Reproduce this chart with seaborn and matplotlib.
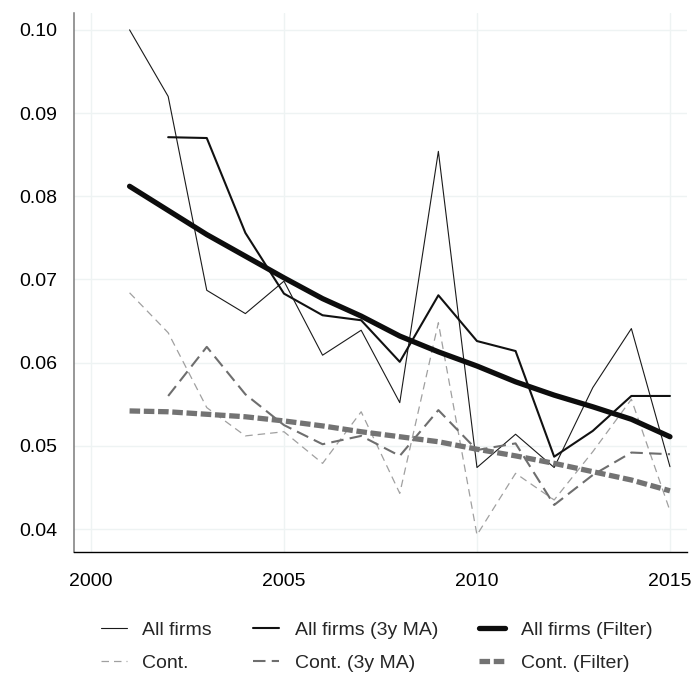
import numpy as np
import pandas as pd
import seaborn as sns
import matplotlib.pyplot as plt

years = list(range(2001, 2016))

all_firms = [0.1000, 0.0920, 0.0687, 0.0659, 0.0698, 0.0609, 0.0639, 0.0552,
             0.0854, 0.0474, 0.0514, 0.0474, 0.0570, 0.0641, 0.0475]
all_firms_ma = [np.nan, 0.0871, 0.0870, 0.0756, 0.0683, 0.0657, 0.0651, 0.0601,
                0.0681, 0.0626, 0.0614, 0.0487, 0.0518, 0.0560, 0.0560]
all_firms_filter = [0.0812, 0.0783, 0.0754, 0.0728, 0.0702, 0.0677, 0.0656, 0.0632,
                    0.0613, 0.0596, 0.0577, 0.0561, 0.0547, 0.0532, 0.0511]
cont = [0.0684, 0.0636, 0.0546, 0.0512, 0.0517, 0.0479, 0.0541, 0.0443,
        0.0648, 0.0393, 0.0467, 0.0435, 0.0493, 0.0556, 0.0422]
cont_ma = [np.nan, 0.0560, 0.0619, 0.0562, 0.0525, 0.0502, 0.0512, 0.0488,
           0.0543, 0.0495, 0.0503, 0.0429, 0.0465, 0.0492, 0.0490]
cont_filter = [0.0542, 0.0541, 0.0538, 0.0535, 0.0530, 0.0524, 0.0517, 0.0511,
               0.0505, 0.0496, 0.0488, 0.0479, 0.0469, 0.0459, 0.0446]

df = pd.DataFrame({
    "year": years,
    "All firms": all_firms,
    "Cont.": cont,
    "All firms (3y MA)": all_firms_ma,
    "Cont. (3y MA)": cont_ma,
    "All firms (Filter)": all_firms_filter,
    "Cont. (Filter)": cont_filter,
})

# line look per series
styles = {
    "All firms": dict(color="#1a1a1a", lw=0.8, ls="-"),
    "Cont.": dict(color="#a0a0a0", lw=0.9, ls=(0, (6, 4))),
    "All firms (3y MA)": dict(color="#111111", lw=1.5, ls="-"),
    "Cont. (3y MA)": dict(color="#6e6e6e", lw=1.5, ls=(0, (6, 3))),
    "All firms (Filter)": dict(color="#0d0d0d", lw=3.8, ls="-"),
    "Cont. (Filter)": dict(color="#737373", lw=3.8, ls=(0, (2.0, 0.7))),
}

sns.set_style("whitegrid")
plt.rcParams["font.family"] = ["Liberation Sans", "DejaVu Sans"]

fig = plt.figure(figsize=(6.96, 6.78), dpi=100)
ax = fig.add_axes([0.1063, 0.186, 0.8807, 0.795])

for name, st in styles.items():
    sns.lineplot(data=df, x="year", y=name, ax=ax, color=st["color"],
                 linewidth=st["lw"], linestyle=st["ls"], label=name, legend=False)

ax.set_xlim(1999.56, 2015.44)
ax.set_ylim(0.03726, 0.10204)
ax.set_xticks([2000, 2005, 2010, 2015])
ax.set_yticks([0.04, 0.05, 0.06, 0.07, 0.08, 0.09, 0.10])
ax.set_yticklabels(["0.04", "0.05", "0.06", "0.07", "0.08", "0.09", "0.10"])
ax.set_xlabel("")
ax.set_ylabel("")
ax.grid(True, color="#eef3f3", linewidth=1.0)
for s in ["right", "top"]:
    ax.spines[s].set_visible(False)
ax.spines["bottom"].set_visible(True)
ax.spines["bottom"].set_color("black")
ax.spines["bottom"].set_linewidth(1.0)
ax.spines["left"].set_visible(True)
ax.spines["left"].set_color("#7a7a7a")
ax.spines["left"].set_linewidth(1.1)
ax.tick_params(axis="both", length=0, labelsize=14, colors="black")
ax.tick_params(axis="x", pad=15)
ax.tick_params(axis="y", pad=12)

handles, labels = ax.get_legend_handles_labels()
fig.legend(handles, labels, ncol=3, loc="center", bbox_to_anchor=(0.541, 0.0465),
           frameon=False, fontsize=14, handlelength=1.35, handletextpad=0.8,
           columnspacing=2.1, labelspacing=0.8)

fig.savefig("out.png", dpi=100)
